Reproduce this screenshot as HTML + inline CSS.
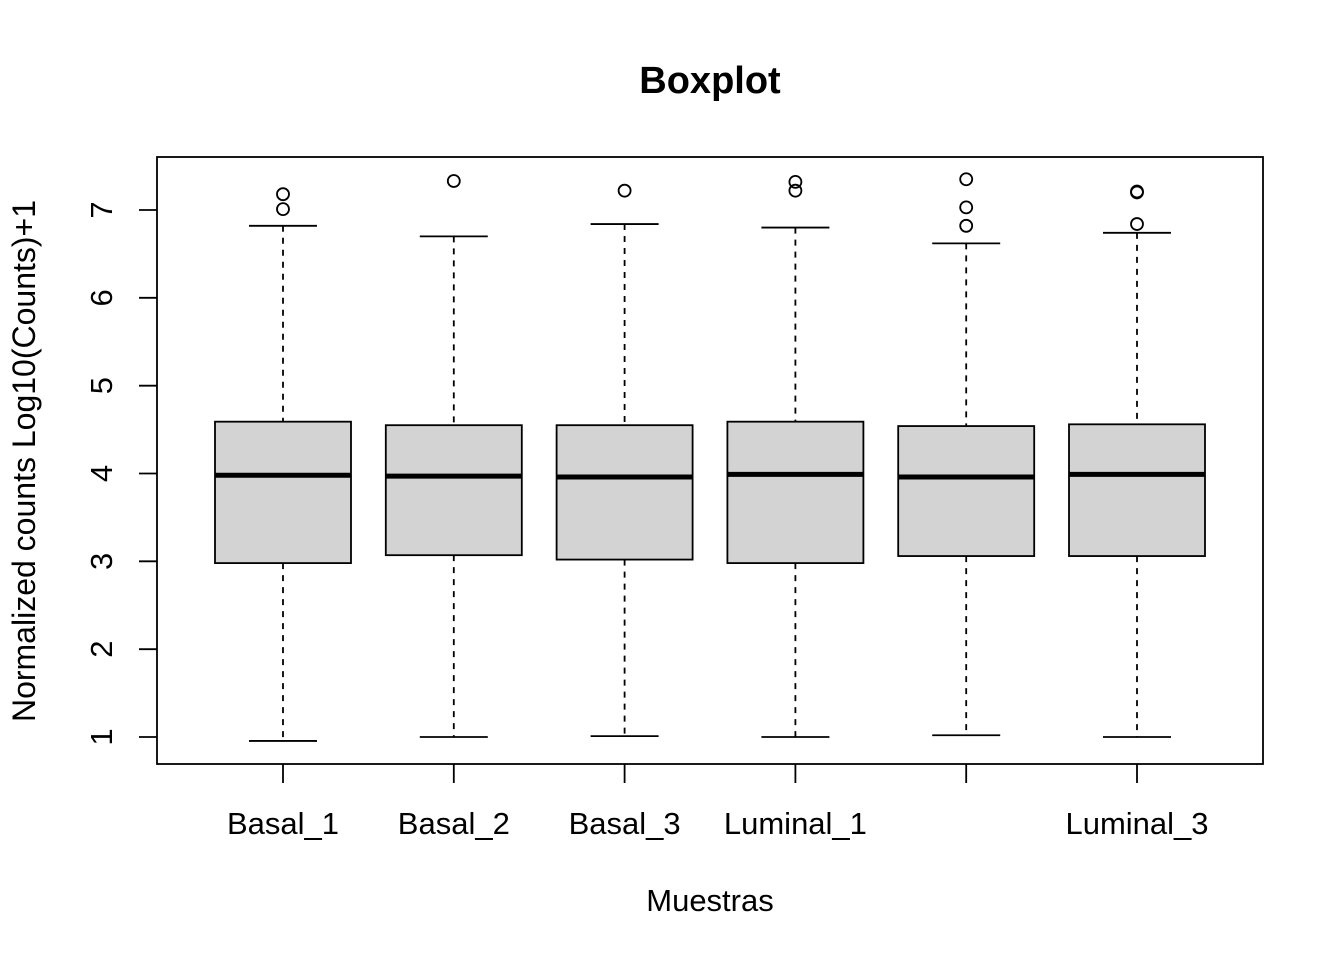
<!DOCTYPE html>
<html><head><meta charset="utf-8"><style>
html,body{margin:0;padding:0;background:#fff;}
svg text{font-family:"Liberation Sans",Arial,sans-serif;}
</style></head><body>
<svg id="chart" width="1344" height="960" xmlns="http://www.w3.org/2000/svg"></svg>
<script>
const categories=["Basal_1","Basal_2","Basal_3","Luminal_1","Luminal_2","Luminal_3"];
const showLabel=[true,true,true,true,false,true];
const lowerWhisker=[0.955,1.0,1.01,1.0,1.02,1.0];
const q1=[2.98,3.07,3.02,2.98,3.06,3.06];
const median=[3.98,3.97,3.96,3.99,3.96,3.99];
const q3=[4.59,4.55,4.55,4.59,4.54,4.56];
const upperWhisker=[6.82,6.70,6.84,6.80,6.62,6.74];
const outliers=[[7.18,7.01],[7.33],[7.22],[7.32,7.22],[7.35,7.03,6.82],[7.21,7.2,6.84]];
const yTicks=[1,2,3,4,5,6,7];

const svg=document.getElementById('chart');
const NS='http://www.w3.org/2000/svg';
function mk(tag,attrs,parent){const e=document.createElementNS(NS,tag);for(const k in attrs)e.setAttribute(k,attrs[k]);(parent||svg).appendChild(e);return e;}
function y(v){return 737-(v-1)*(737-210)/6;}
function x(i){return 283+i*170.8;}
const hw=68;

let t=mk('text',{x:710,y:93,'text-anchor':'middle','font-size':38,'font-weight':'bold'});
t.textContent='Boxplot';



let frame=mk('rect',{x:157,y:157,width:1106,height:607,fill:'none',stroke:'#000','stroke-width':1.8});



yTicks.forEach(v=>{
  const g=mk('g',{});
  
  
  mk('line',{x1:139,x2:157,y1:y(v),y2:y(v),stroke:'#000','stroke-width':1.8},g);
  const tx=mk('text',{x:0,y:0,'font-size':31,'text-anchor':'middle',transform:`translate(112,${y(v)}) rotate(-90)`},g);
  tx.textContent=v;
});

let yl=mk('text',{x:0,y:0,'font-size':32,'text-anchor':'middle',transform:'translate(35,461) rotate(-90)'});
yl.textContent='Normalized counts Log10(Counts)+1';



let xl=mk('text',{x:710,y:911,'font-size':31,'text-anchor':'middle'});
xl.textContent='Muestras';



categories.forEach((c,i)=>{
  const cx=x(i);
  const g=mk('g',{});
  
  
  const ls={stroke:'#000','stroke-width':1.8};
  mk('line',Object.assign({x1:cx,x2:cx,y1:y(upperWhisker[i]),y2:y(q3[i]),'stroke-dasharray':'6,6'},ls),g);
  mk('line',Object.assign({x1:cx,x2:cx,y1:y(q1[i]),y2:y(lowerWhisker[i]),'stroke-dasharray':'6,6'},ls),g);
  mk('line',Object.assign({x1:cx-34,x2:cx+34,y1:y(upperWhisker[i]),y2:y(upperWhisker[i])},ls),g);
  mk('line',Object.assign({x1:cx-34,x2:cx+34,y1:y(lowerWhisker[i]),y2:y(lowerWhisker[i])},ls),g);
  mk('rect',{x:cx-hw,y:y(q3[i]),width:2*hw,height:y(q1[i])-y(q3[i]),fill:'#d3d3d3',stroke:'#000','stroke-width':1.8},g);
  mk('line',{x1:cx-hw,x2:cx+hw,y1:y(median[i]),y2:y(median[i]),stroke:'#000','stroke-width':5},g);
  outliers[i].forEach(o=>{mk('circle',{cx:cx,cy:y(o),r:6,fill:'none',stroke:'#000','stroke-width':1.8},g);});
  const tk=mk('line',{x1:cx,x2:cx,y1:764,y2:783,stroke:'#000','stroke-width':1.8});
  
  
  if(showLabel[i]){
    const lb=mk('text',{x:cx,y:834,'font-size':31,'text-anchor':'middle'});
    lb.textContent=c;
    
    
  }
});
</script>
</body></html>
